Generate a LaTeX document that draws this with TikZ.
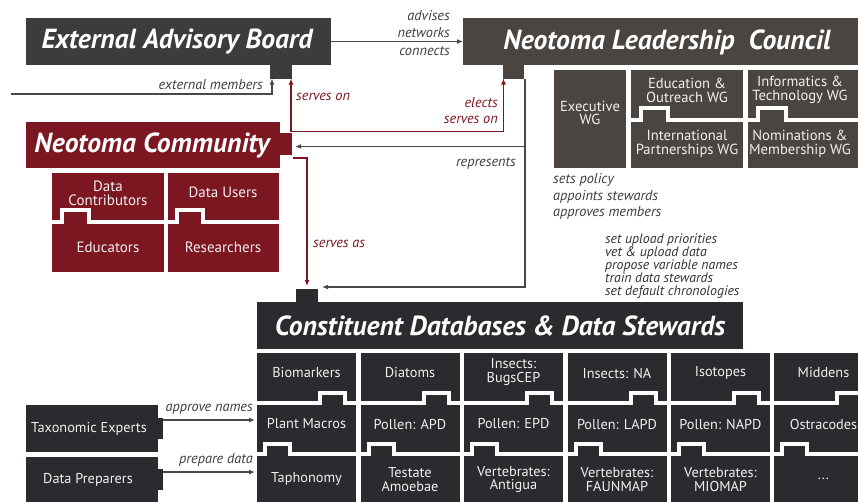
\documentclass[tikz,border=0pt]{standalone}
\usepackage{fontspec}
\setmainfont{PT Sans}
\usetikzlibrary{arrows.meta,calc}
\definecolor{eabc}{RGB}{60,59,61}
\definecolor{nlcc}{RGB}{74,69,64}
\definecolor{cdc}{RGB}{45,42,47}
\definecolor{redc}{RGB}{124,22,33}
\definecolor{arrc}{RGB}{72,72,72}
\definecolor{labc}{RGB}{62,62,62}
\definecolor{celltxt}{RGB}{240,240,240}
\begin{document}
\begin{tikzpicture}[x=1pt,y=-1pt,
  title/.style={text=white, inner sep=0, font=\fontsize{27.6}{30}\selectfont\bfseries\itshape},
  cell/.style={text=celltxt, align=center, inner sep=0, font=\fontsize{14.3}{13.4}\selectfont},
  wgcell/.style={cell, font=\fontsize{14.6}{13.8}\selectfont},
  bigcell/.style={cell, font=\fontsize{15}{14}\selectfont},
  lab/.style={text=labc, inner sep=0, font=\fontsize{14.3}{12.5}\selectfont\itshape},
  tasklab/.style={lab, text=black!80, font=\fontsize{13.8}{13}\selectfont\itshape},
  rlab/.style={lab, text=redc},
  boxnode/.style={inner sep=0, outer sep=0, anchor=north west},
  garr/.style={draw=arrc, line width=1.4, -{Latex[length=6,width=5]}},
  rarr/.style={draw=redc, line width=1.6, -{Latex[length=6,width=5]}},
  sepline/.style={draw=white, line width=4}
]
\clip (0,0) rectangle (858,501);
\fill[white] (0,0) rectangle (858,501);

% ---------- External Advisory Board ----------
\node[boxnode, fill=eabc, minimum width=305, minimum height=47] (eab) at (26,18) {};
\node[boxnode, fill=eabc, minimum width=22, minimum height=14] (eabtab) at (270,64.5) {};
\node[title] (eabt) at (177,42) {External Advisory Board};

% ---------- Neotoma Leadership Council ----------
\node[boxnode, fill=nlcc, minimum width=400, minimum height=47] (nlc) at (463,18) {};
\node[boxnode, fill=nlcc, minimum width=21, minimum height=14] (nlctab) at (503,64.5) {};
\node[title] (nlct) at (667,42) {Neotoma Leadership\ \ Council};

% Working groups
\fill[nlcc] (554,70) rectangle (626,168);
\node[wgcell] (exwg) at (590,113) {Executive\\WG};
\fill[nlcc] (631,70) rectangle (743,168);
\fill[nlcc] (748,70) rectangle (862,168);
\draw[sepline] (629,119.5) -- (641,119.5) -- (641,107.5) -- (668,107.5) -- (668,119.5) -- (745,119.5);
\draw[sepline] (746,119.5) -- (758,119.5) -- (758,107.5) -- (786,107.5) -- (786,119.5) -- (864,119.5);
\node[wgcell] (edwg) at (687,90) {Education \&\\Outreach WG};
\node[wgcell] (inwg) at (687,144) {International\\Partnerships WG};
\node[wgcell] (itwg) at (800,90) {Informatics \&\\Technology WG};
\node[wgcell] (nmwg) at (800,144) {Nominations \&\\Membership WG};

\node[lab, anchor=west] (sp) at (553,180) {sets policy};
\node[lab, anchor=west] (as) at (553,197) {appoints stewards};
\node[lab, anchor=west] (am) at (553,213) {approves members};

\node[tasklab, anchor=north west, align=left] (tasks) at (605,234) {set upload priorities\\vet \& upload data\\propose variable names\\train data stewards\\set default chronologies};

% ---------- Neotoma Community ----------
\node[boxnode, fill=redc, minimum width=254, minimum height=46] (nc) at (26,122) {};
\node[boxnode, fill=redc, minimum width=12.5, minimum height=22] (nctab) at (279.5,133) {};
\node[title] (nct) at (152,145) {Neotoma Community};

\fill[redc] (52,173) rectangle (164,272);
\fill[redc] (168,173) rectangle (279,272);
\draw[sepline] (50,221.5) -- (62,221.5) -- (62,210) -- (89,210) -- (89,221.5) -- (166,221.5);
\draw[sepline] (166,221.5) -- (177,221.5) -- (177,210) -- (203,210) -- (203,221.5) -- (281,221.5);
\node[bigcell] (dc) at (108,193) {Data\\Contributors};
\node[bigcell] (du) at (223,192) {Data Users};
\node[bigcell] (ed) at (108,247) {Educators};
\node[bigcell] (rs) at (223,247) {Researchers};

% ---------- Constituent Databases ----------
\node[boxnode, fill=cdc, minimum width=486, minimum height=47] (cd) at (257,302) {};
\node[boxnode, fill=cdc, minimum width=22, minimum height=13.5] (cdtab) at (296,289) {};
\node[title] (cdt) at (500,326) {Constituent Databases \& Data Stewards};

\foreach \x in {257,360.5,464,567.5,671,774} {
  \fill[cdc] (\x,353) rectangle ++(99,152);
  \draw[sepline] (\x-2,403) -- ++(65,0) -- ++(0,-10) -- ++(25,0) -- ++(0,10) -- (\x+101,403);
  \draw[sepline] (\x-2,454) -- ++(10,0) -- ++(0,-10) -- ++(25,0) -- ++(0,10) -- (\x+101,454);
}
\node[cell] (r1c1) at (306.5,373) {Biomarkers};
\node[cell] (r1c2) at (410,373) {Diatoms};
\node[cell] (r1c3) at (513.5,372) {Insects:\\BugsCEP};
\node[cell] (r1c4) at (617,373) {Insects: NA};
\node[cell] (r1c5) at (720.5,373) {Isotopes};
\node[cell] (r1c6) at (823.5,373) {Middens};
\node[cell] (r2c1) at (306.5,424) {Plant Macros};
\node[cell] (r2c2) at (410,424) {Pollen: APD};
\node[cell] (r2c3) at (513.5,424) {Pollen: EPD};
\node[cell] (r2c4) at (617,424) {Pollen: LAPD};
\node[cell] (r2c5) at (720.5,424) {Pollen: NAPD};
\node[cell] (r2c6) at (823.5,424) {Ostracodes};
\node[cell] (r3c1) at (306.5,479) {Taphonomy};
\node[cell] (r3c2) at (410,479.5) {Testate\\Amoebae};
\node[cell] (r3c3) at (513.5,479.5) {Vertebrates:\\Antigua};
\node[cell] (r3c4) at (617,479.5) {Vertebrates:\\FAUNMAP};
\node[cell] (r3c5) at (720.5,479.5) {Vertebrates:\\MIOMAP};
\node[cell] (r3c6) at (823.5,479) {...};

% ---------- Left experts ----------
\node[boxnode, fill=cdc, minimum width=132, minimum height=47] (tax) at (26,405) {};
\node[boxnode, fill=cdc, minimum width=5.5, minimum height=21] (taxtab) at (157.5,418) {};
\node[cell] (taxt) at (89,428.5) {Taxonomic Experts};
\node[boxnode, fill=cdc, minimum width=132, minimum height=50] (prep) at (26,457) {};
\node[boxnode, fill=cdc, minimum width=5.5, minimum height=21] (preptab) at (157.5,469) {};
\node[cell] (prept) at (88,480) {Data Preparers};

\coordinate (pmIn) at (255,420);
\coordinate (tpIn) at (255,472);
\draw[garr] (taxtab.east |- pmIn) -- (pmIn);
\draw[garr] (preptab.east |- tpIn) -- (tpIn);
\node[lab, anchor=east] (apn) at (253,409) {approve names};
\node[lab, anchor=east] (prd) at (253,460) {prepare data};

% ---------- Connectors ----------
\draw[garr] (eab.east) -- (nlc.west);
\node[lab, anchor=east] (adv) at (450,16) {advises};
\node[lab, anchor=east] (net) at (450,33) {networks};
\node[lab, anchor=east] (con) at (450,51) {connects};

\coordinate (extstart) at (11,94);
\draw[garr] (extstart) -| ($(eabtab.south west)+(2,0)$);
\node[lab, anchor=east] (extl) at (263,85) {external members};

\draw[rarr, {Latex[length=6,width=5]}-{Latex[length=6,width=5]}]
  ($(eabtab.south east)+(-1,0)$) -- ++(0,53) -| ($(nlctab.south west)+(0.5,0)$);
\node[rlab, anchor=west] (so1) at (296,97) {serves on};
\node[rlab, anchor=east] (el) at (498,103) {elects};
\node[rlab, anchor=east] (so2) at (498,120) {serves on};

\draw[garr] ($(nlctab.south east)+(1,0)$) |- ($(nctab.east)+(3,2.5)$);
\draw[garr] ($(nlctab.south east)+(1,0)$) |- ($(cdtab.north east)+(4,-2)$);
\node[lab, anchor=east] (rep) at (516,163) {represents};

\draw[rarr] ($(nctab.south east)+(1,3)$) -| ($(cdtab.north)+(0,-3)$);
\node[rlab, anchor=west] (sa) at (313,244) {serves as};
\end{tikzpicture}
\end{document}
